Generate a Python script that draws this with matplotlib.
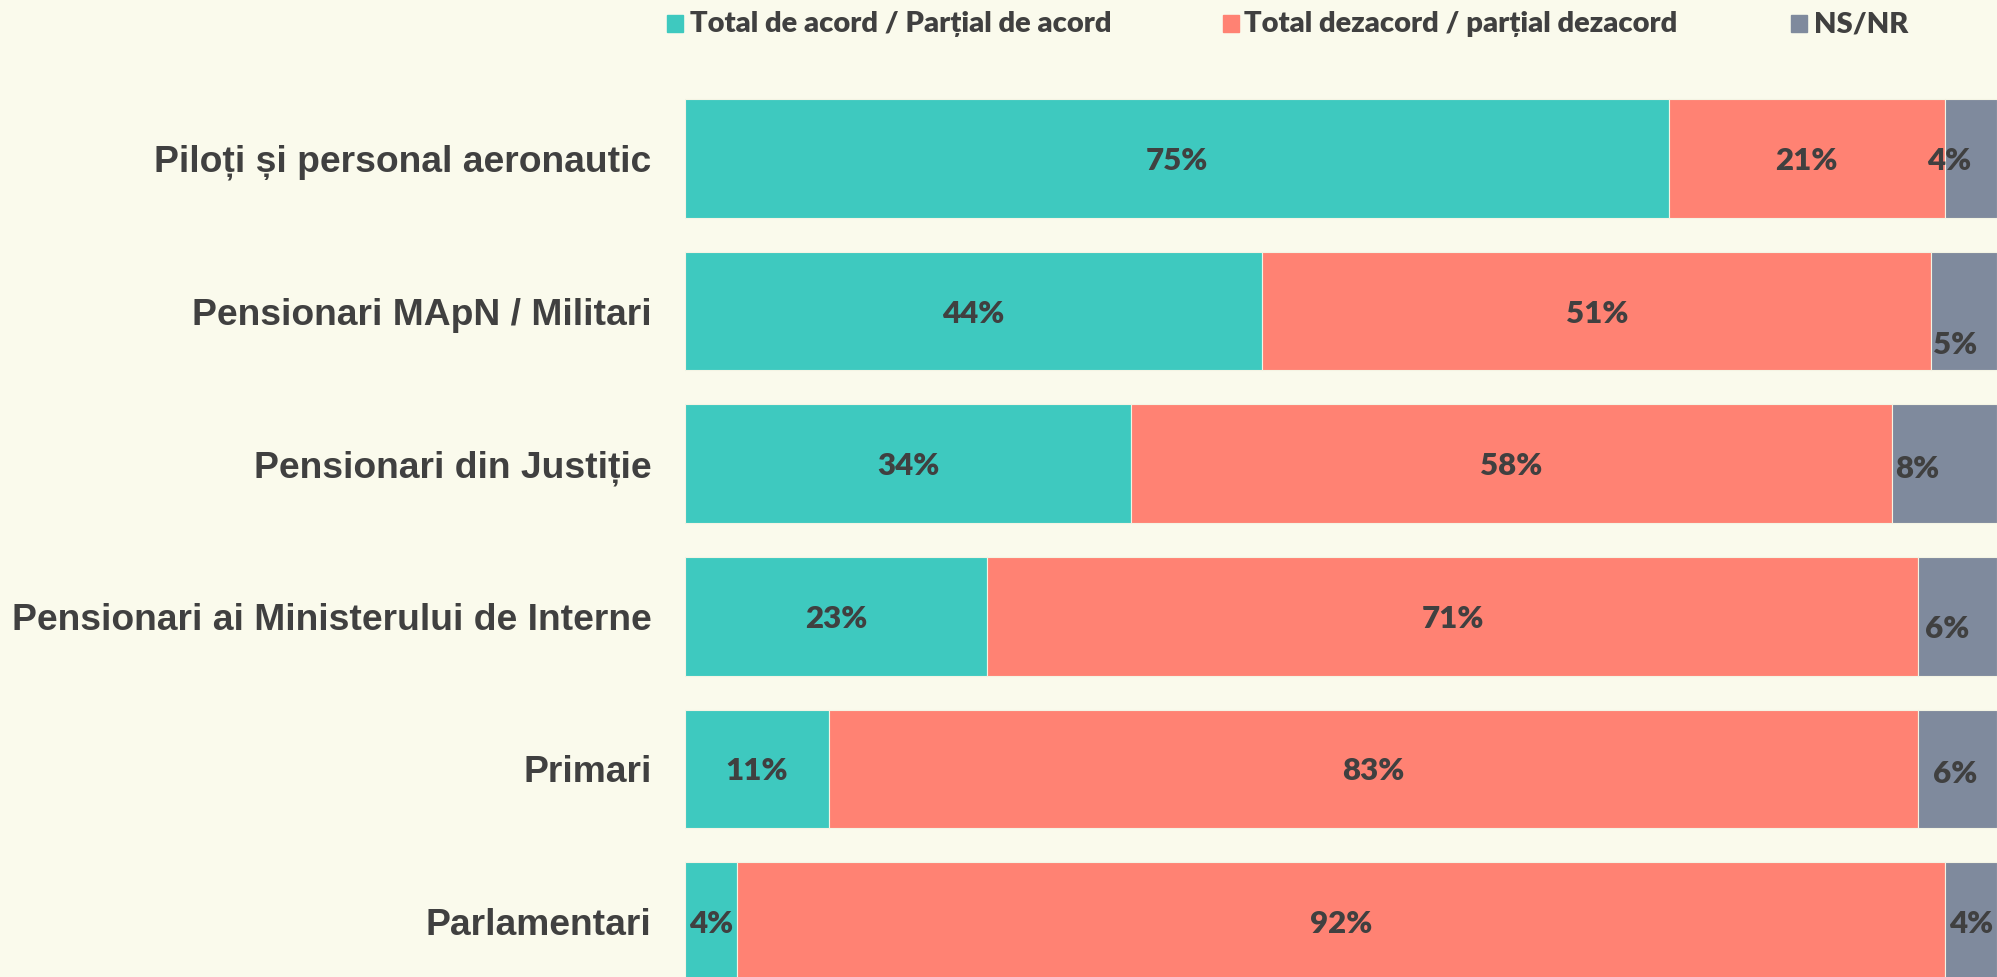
import matplotlib.pyplot as plt
from matplotlib.patches import Rectangle

categories = ['Piloți și personal aeronautic', 'Pensionari MApN / Militari',
              'Pensionari din Justiție', 'Pensionari ai Ministerului de Interne',
              'Primari', 'Parlamentari']
acord = [75, 44, 34, 23, 11, 4]
dezacord = [21, 51, 58, 71, 83, 92]
nsnr = [4, 5, 8, 6, 6, 4]
series_names = ['Total de acord / Parțial de acord',
                'Total dezacord / parțial dezacord', 'NS/NR']

colors = ['#3EC9BF', '#FF8273', '#7F8A9D']
bg = '#FAFAEC'
txt = '#404040'
# label nudges (px) for the NS/NR values, as they sit in the original
ns_dx = [-22, -9, -27, -10, -2, 0]
ns_dy = [0, -31, -3, -10, -3, 0]

W, H = 1997, 977
fig = plt.figure(figsize=(W / 100, H / 100), dpi=100, facecolor=bg)
ax = fig.add_axes([685 / W, 0, 1 - 685 / W, 1 - 82.2 / H])
ax.set_facecolor(bg)

y = list(range(len(categories)))
left = [0] * len(categories)
for vals, c in zip([acord, dezacord, nsnr], colors):
    ax.barh(y, vals, left=left, height=0.777, color=c,
            edgecolor='#F4F4E4', linewidth=0.8)
    left = [l + v for l, v in zip(left, vals)]

lab_font = dict(family='Lato', fontweight='heavy', fontsize=22.5, color=txt,
                ha='center', va='center_baseline')
for i in y:
    ax.text(acord[i] / 2, i, f'{acord[i]}%', **lab_font)
    ax.text(acord[i] + dezacord[i] / 2, i, f'{dezacord[i]}%', **lab_font)
    ax.annotate(f'{nsnr[i]}%', (acord[i] + dezacord[i] + nsnr[i] / 2, i),
                xytext=(ns_dx[i] * 0.72, ns_dy[i] * 0.72),
                textcoords='offset points', **lab_font)

ax.set_xlim(0, 100)
ax.set_ylim(5.364, -0.5)
ax.set_yticks(y)
ax.set_yticklabels(categories, family='Liberation Sans', fontweight='bold',
                   fontsize=26.8, color=txt)
ax.tick_params(axis='y', length=0, pad=24)
ax.set_xticks([])
for s in ax.spines.values():
    s.set_visible(False)

# legend along the top
leg_items = [(667, 690), (1223, 1244), (1791, 1814)]
for (sx, tx), name, c in zip(leg_items, series_names, colors):
    fig.patches.append(Rectangle((sx / W, 1 - 32 / H), 16 / W, 17 / H,
                                 transform=fig.transFigure, color=c))
    fig.text(tx / W, 1 - 24 / H, name, family='Lato', fontweight='heavy',
             fontsize=21, color=txt, ha='left', va='center')

fig.savefig('out.png', dpi=100, facecolor=bg)
